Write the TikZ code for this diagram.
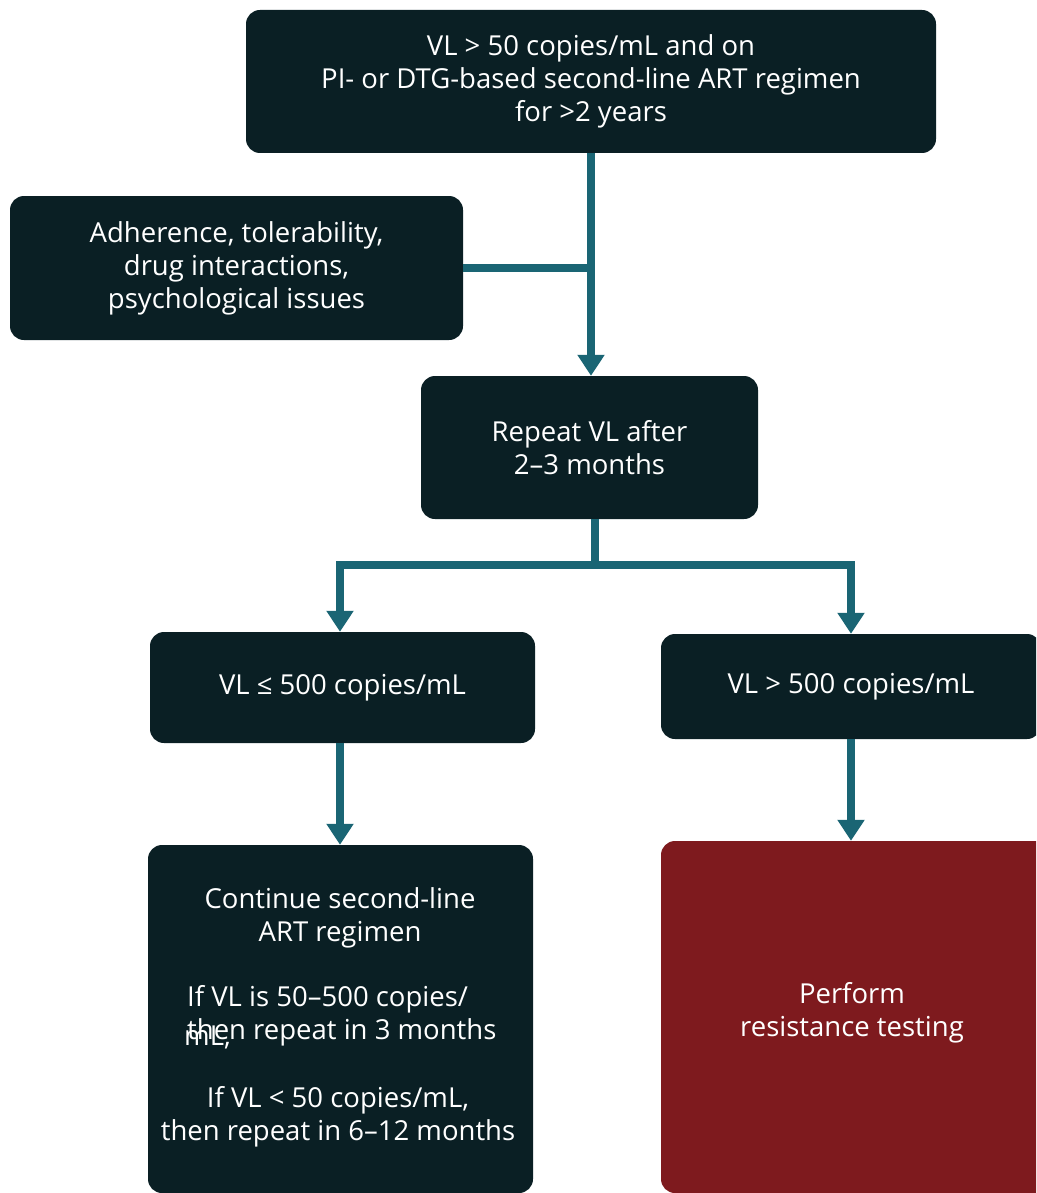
\documentclass[tikz,border=0pt]{standalone}
\usepackage{fontspec}
\setmainfont{Open Sans}
\usetikzlibrary{arrows.meta}
\definecolor{boxdark}{HTML}{0A1F24}
\definecolor{linkteal}{HTML}{1A6574}
\definecolor{alertred}{HTML}{7E1A1E}
\tikzset{
  stepbox/.style={draw=none,fill=boxdark,rounded corners=14pt,text=white,align=center,
    inner sep=0pt,font=\fontsize{27.5}{33}\selectfont},
  txt/.style={text=white,inner sep=0pt,font=\fontsize{27.5}{33}\selectfont},
  link/.style={draw=linkteal,line width=8pt},
  linkarrow/.style={link,-{Triangle[width=26pt,length=21pt]}}
}
\begin{document}
\begin{tikzpicture}[x=1pt,y=-1pt]
				\clip (0,0) rectangle (1036,1193);
				\node[stepbox,minimum width=690pt,minimum height=143pt] (top) at (591,81.5)
					{VL > 50 copies/mL and on\\PI- or DTG-based second-line ART regimen\\for >2 years};
				\node[stepbox,minimum width=453pt,minimum height=144pt] (side) at (236.5,268)
					{Adherence, tolerability,\\drug interactions,\\psychological issues};
				\node[stepbox,minimum width=337pt,minimum height=143pt] (repeat) at (589.5,447.5)
					{Repeat VL after\\2--3 months};
				\node[stepbox,minimum width=385pt,minimum height=111pt] (low) at (342.5,687.5)
					{VL ≤ 500 copies/mL};
				\node[stepbox,minimum width=380pt,minimum height=105pt] (high) at (851,686.5)
					{VL > 500 copies/mL};
				\node[stepbox,minimum width=385pt,minimum height=348pt] (cont) at (340.5,1019) {};
				\node[stepbox,fill=alertred,minimum width=390pt,minimum height=352pt] (resist) at (856,1017) {};
				\node[txt,align=center] (resistT) at (852,1013) {Perform\\resistance testing};
				\node[txt,align=center] (contA) at (340,918) {Continue second-line\\ART regimen};
				\node[txt,align=left,anchor=west] (contB) at (187,1016) {If VL is 50--500 copies/\\then repeat in 3 months};
				\node[txt,anchor=west] (contBml) at (184,1037) {mL,};
				\node[txt,align=center] (contC) at (338,1117) {If VL < 50 copies/mL,\\then repeat in 6--12 months};
				\coordinate (split) at (595,565);
				\draw[linkarrow] (top.south) -- (top.south |- repeat.north);
				\draw[link] (side.east) -- (side.east -| top.south);
				\draw[link] (repeat.south -| split) -- (split);
				\draw[linkarrow] (split) -| ([xshift=-2.5pt]low.north);
				\draw[linkarrow] (split) -| (high.north);
				\draw[linkarrow] ([xshift=-2.5pt]low.south) -- ([xshift=-2.5pt]low.south |- cont.north);
				\draw[linkarrow] (high.south) -- (high.south |- resist.north);
			\end{tikzpicture}
\end{document}
